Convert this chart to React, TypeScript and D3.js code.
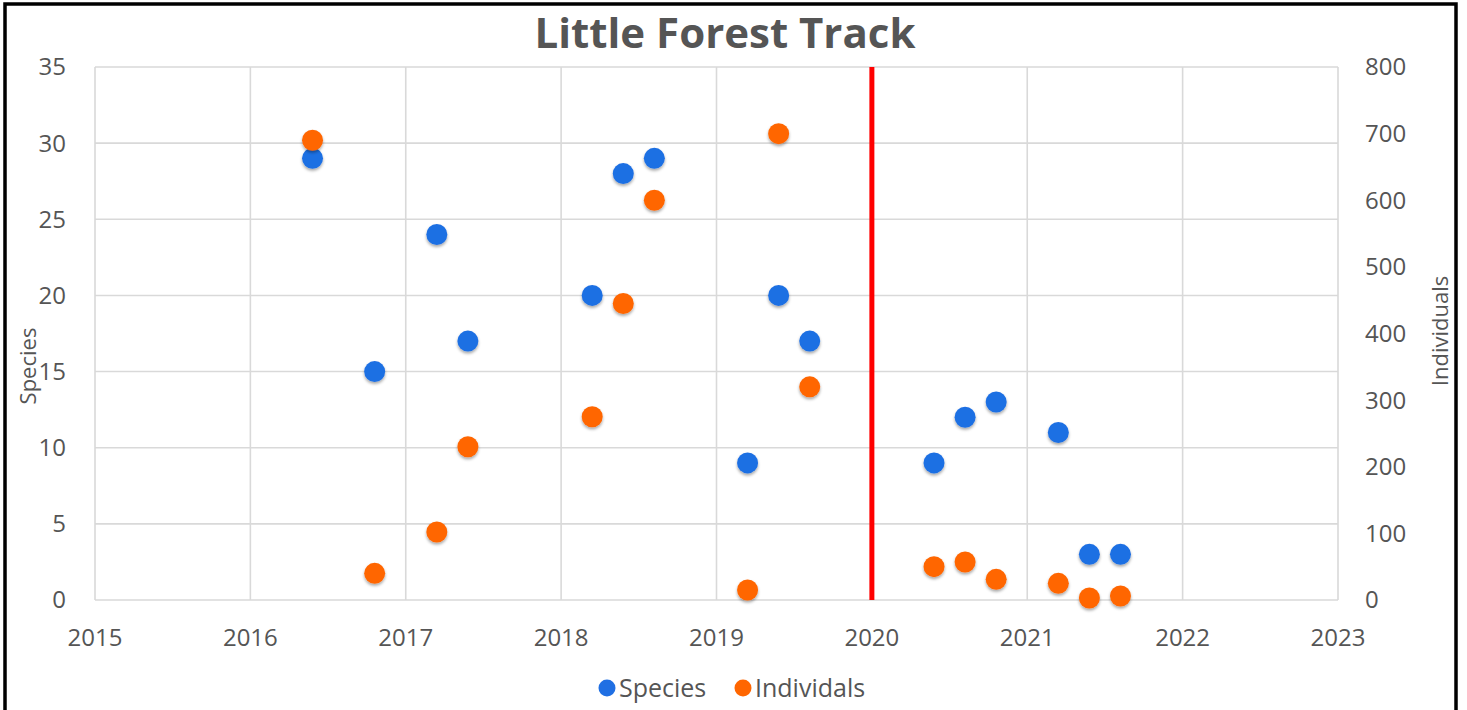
import React, { useEffect, useRef } from "react";
import * as d3 from "d3";

// survey dates (decimal years) and counts
const years = [2016.4, 2016.8, 2017.2, 2017.4, 2018.2, 2018.4, 2018.6, 2019.2, 2019.4, 2019.6, 2020.4, 2020.6, 2020.8, 2021.2, 2021.4, 2021.6];
const species = [29, 15, 24, 17, 20, 28, 29, 9, 20, 17, 9, 12, 13, 11, 3, 3];
const individuals = [690, 40, 102, 230, 275, 445, 600, 15, 700, 320, 50, 57, 31, 25, 3, 6];

const xTicks = [2015, 2016, 2017, 2018, 2019, 2020, 2021, 2022, 2023];
const leftTicks = [0, 5, 10, 15, 20, 25, 30, 35];
const rightTicks = [0, 100, 200, 300, 400, 500, 600, 700, 800];
const dividerYear = 2020;

const title = "Little Forest Track";
const seriesNames = ["Species", "Individals"];
const colors = ["#1f6fe3", "#ff6600"];

export default function App() {
  const ref = useRef<SVGSVGElement>(null);

  useEffect(() => {
    const svg = d3.select(ref.current);
    svg.selectAll("*").remove();

    const W = 1467,
      H = 710;
    const margin = { top: 67, right: 129, bottom: 110, left: 95 };
    const width = W - margin.left - margin.right,
      height = H - margin.top - margin.bottom;
    const font = "'Open Sans', sans-serif";
    const textColor = "#555555";

    svg.append("rect").attr("width", W).attr("height", H).attr("fill", "#fff");

    const defs = svg.append("defs");
    const filter = defs
      .append("filter")
      .attr("id", "shadow")
      .attr("x", "-50%")
      .attr("y", "-50%")
      .attr("width", "200%")
      .attr("height", "200%");
    filter
      .append("feDropShadow")
      .attr("dx", 0)
      .attr("dy", 2)
      .attr("stdDeviation", 1.6)
      .attr("flood-color", "#000")
      .attr("flood-opacity", 0.35);

    const x = d3.scaleLinear().domain([2015, 2023]).range([0, width]);
    const yL = d3.scaleLinear().domain([0, 35]).range([height, 0]);
    const yR = d3.scaleLinear().domain([0, 800]).range([height, 0]);

    const g = svg
      .append("g")
      .attr("transform", "translate(" + margin.left + "," + margin.top + ")");

    // gridlines
    g.append("g")
      .selectAll("line")
      .data(leftTicks)
      .enter()
      .append("line")
      .attr("x1", 0)
      .attr("x2", width)
      .attr("y1", (d) => yL(d))
      .attr("y2", (d) => yL(d))
      .attr("stroke", "#d9d9d9")
      .attr("stroke-width", 1.6);

    g.append("g")
      .selectAll("line")
      .data(xTicks)
      .enter()
      .append("line")
      .attr("x1", (d) => x(d))
      .attr("x2", (d) => x(d))
      .attr("y1", 0)
      .attr("y2", height)
      .attr("stroke", "#d9d9d9")
      .attr("stroke-width", 1.6);

    // tick labels
    g.append("g")
      .selectAll("text")
      .data(xTicks)
      .enter()
      .append("text")
      .attr("x", (d) => x(d))
      .attr("y", height + 46)
      .attr("text-anchor", "middle")
      .attr("font-family", font)
      .attr("font-size", 24)
      .attr("fill", textColor)
      .text((d) => d);

    g.append("g")
      .selectAll("text")
      .data(leftTicks)
      .enter()
      .append("text")
      .attr("x", -29)
      .attr("y", (d) => yL(d))
      .attr("dy", "0.35em")
      .attr("text-anchor", "end")
      .attr("font-family", font)
      .attr("font-size", 24)
      .attr("fill", textColor)
      .text((d) => d);

    g.append("g")
      .selectAll("text")
      .data(rightTicks)
      .enter()
      .append("text")
      .attr("x", width + 27)
      .attr("y", (d) => yR(d))
      .attr("dy", "0.35em")
      .attr("text-anchor", "start")
      .attr("font-family", font)
      .attr("font-size", 24)
      .attr("fill", textColor)
      .text((d) => d);

    // axis titles
    svg
      .append("text")
      .attr("transform", "translate(36,366) rotate(-90)")
      .attr("text-anchor", "middle")
      .attr("font-family", font)
      .attr("font-size", 22)
      .attr("fill", textColor)
      .text("Species");

    svg
      .append("text")
      .attr("transform", "translate(1448,331) rotate(-90)")
      .attr("text-anchor", "middle")
      .attr("font-family", font)
      .attr("font-size", 22)
      .attr("fill", textColor)
      .text("Individuals");

    // divider line
    g.append("line")
      .attr("x1", x(dividerYear))
      .attr("x2", x(dividerYear))
      .attr("y1", 0)
      .attr("y2", height)
      .attr("stroke", "#ff0000")
      .attr("stroke-width", 5);

    // points
    const pts = years.map((yr, i) => ({ yr: yr, s: species[i], n: individuals[i] }));

    g.append("g")
      .selectAll("circle")
      .data(pts)
      .enter()
      .append("circle")
      .attr("cx", (d) => x(d.yr))
      .attr("cy", (d) => yL(d.s))
      .attr("r", 10.5)
      .attr("fill", colors[0])
      .attr("filter", "url(#shadow)");

    g.append("g")
      .selectAll("circle")
      .data(pts)
      .enter()
      .append("circle")
      .attr("cx", (d) => x(d.yr))
      .attr("cy", (d) => yR(d.n))
      .attr("r", 10.5)
      .attr("fill", colors[1])
      .attr("filter", "url(#shadow)");

    // title
    svg
      .append("text")
      .attr("x", 725)
      .attr("y", 48)
      .attr("text-anchor", "middle")
      .attr("font-family", font)
      .attr("font-weight", "bold")
      .attr("font-size", 42)
      .attr("fill", textColor)
      .text(title);

    // legend
    const legendX = [607, 743];
    const legend = svg
      .selectAll(".legend")
      .data(seriesNames)
      .enter()
      .append("g")
      .attr("class", "legend")
      .attr("transform", (d, i) => "translate(" + legendX[i] + ",688)");

    legend
      .append("circle")
      .attr("r", 8.5)
      .attr("fill", (d, i) => colors[i]);

    legend
      .append("text")
      .attr("x", 12)
      .attr("dy", "0.35em")
      .attr("font-family", font)
      .attr("font-size", 25)
      .attr("fill", textColor)
      .text((d) => d);

    // outer frame
    svg
      .append("rect")
      .attr("x", 5)
      .attr("y", 4)
      .attr("width", 1451)
      .attr("height", 730)
      .attr("fill", "none")
      .attr("stroke", "#000")
      .attr("stroke-width", 3.5);
  }, []);

  return (
    <svg
      ref={ref}
      width={1467}
      height={710}
      style={{ position: "absolute", left: 0, top: 0 }}
    />
  );
}
